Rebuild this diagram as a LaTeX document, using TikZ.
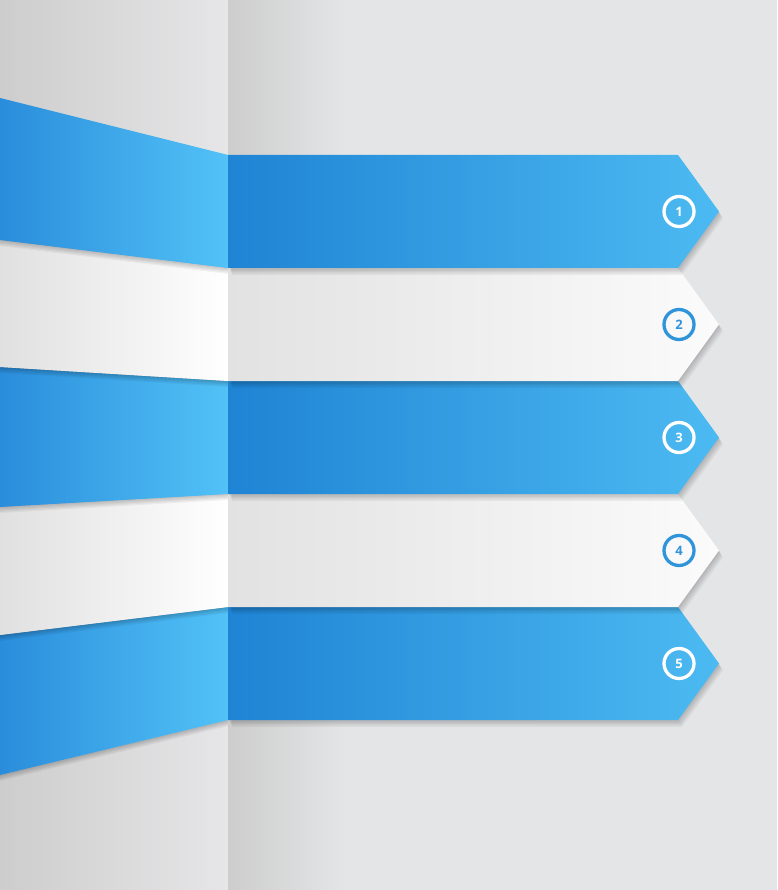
\documentclass[tikz,border=0pt]{standalone}
\usepackage{fontspec}
\setsansfont{Open Sans}
\usetikzlibrary{calc}
\definecolor{bgleftA}{HTML}{CDCDCD}
\definecolor{bgleftB}{HTML}{E6E6E8}
\definecolor{bgfold}{HTML}{CDCDCD}
\definecolor{bgright}{HTML}{E4E5E7}
\definecolor{blueA}{HTML}{2A8DDB}
\definecolor{blueB}{HTML}{52C2F7}
\definecolor{blueC}{HTML}{1F84D4}
\definecolor{blueD}{HTML}{4CBAF2}
\definecolor{whiteA}{HTML}{E0E0E0}
\definecolor{whiteB}{HTML}{FFFFFF}
\definecolor{whiteC}{HTML}{E2E2E2}
\definecolor{whiteD}{HTML}{FBFBFB}
\definecolor{ringblue}{HTML}{3094DA}
\tikzset{blueleft/.style={left color=blueA,right color=blueB}}
\tikzset{blueright/.style={left color=blueC,right color=blueD}}
\tikzset{whiteleft/.style={left color=whiteA,right color=whiteB}}
\tikzset{whiteright/.style={left color=whiteC,right color=whiteD}}
\tikzset{softshadow/.style={fill=black,opacity=0.045}}
\tikzset{numring/.style={circle,line width=3.3pt,minimum size=30pt,inner sep=0pt,
  font=\sffamily\bfseries\fontsize{13}{13}\selectfont}}

\begin{document}
\begin{tikzpicture}[x=1pt,y=-1pt]
  \useasboundingbox (0,0) rectangle (777,890);
  % paper, folded at x=228
  \shade[left color=bgleftA,right color=bgleftB] (0,0) rectangle (228,890);
  \shade[left color=bgfold,right color=bgright] (228,0) rectangle (345,890);
  \fill[bgright] (345,0) rectangle (777,890);
  % ribbons, lowest first so each one shades the next
  \foreach \i/\lt/\lb/\rt/\rb/\kind/\ink in {5/635/775/607/720/blue/white,
      4/507/635/494/607/white/ringblue, 3/367/507/381/494/blue/white,
      2/240/367/268/381/white/ringblue, 1/98/240/155/268/blue/white}{
    \pgfmathsetmacro{\mid}{(\rt+\rb)/2}
    \foreach \s in {1,...,5}{
      \fill[softshadow,shift={(0,\s*1.2)}] (0,\lt) -- (228,\rt) -- (228,\rb) -- (0,\lb) -- cycle;
      \fill[softshadow,shift={(\s*0.8,\s*1.4)}] (228,\rt) -- (678,\rt) -- (719,\mid) -- (678,\rb) -- (228,\rb) -- cycle;
    }
    \shade[\kind left] (0,\lt) -- (228,\rt) -- (228,\rb) -- (0,\lb) -- cycle;
    \shade[\kind right] (228,\rt) -- (678,\rt) -- (719,\mid) -- (678,\rb) -- (228,\rb) -- cycle;
    \node[numring,draw=\ink,text=\ink] (num\i) at (679,\mid) {\i};
  }
\end{tikzpicture}
\end{document}
